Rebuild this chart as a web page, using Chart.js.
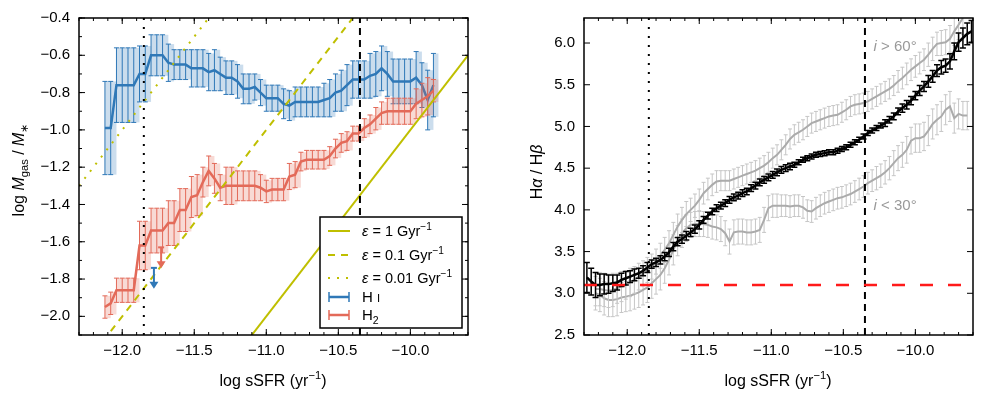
<!DOCTYPE html>
<html lang="en">

<head>
    <meta charset="UTF-8">
    <script src="https://cdn.jsdelivr.net/npm/chart.js"></script>
    <title>sSFR panels</title>
    <style>
        body { margin: 0; background: #fff; }
        #wrap { position: relative; width: 981px; height: 396px; }
        .panel { position: absolute; top: 0; height: 396px; }
    </style>
</head>

<body>
    <div id="wrap">
        <div class="panel" style="left:0;width:490px"><canvas id="gasChart"></canvas></div>
        <div class="panel" style="left:490px;width:491px"><canvas id="balmerChart"></canvas></div>
    </div>

<script>
    const FONT = '"Liberation Sans", Arial, sans-serif'

    // ---- left panel: gas fraction vs sSFR ----
    const ssfrGas = [-12.12, -12.08, -12.04, -12.00, -11.96, -11.92, -11.88, -11.84, -11.80, -11.76,
        -11.72, -11.68, -11.64, -11.60, -11.56, -11.52, -11.48, -11.44, -11.40, -11.36,
        -11.32, -11.28, -11.24, -11.20, -11.16, -11.12, -11.08, -11.04, -11.00, -10.96,
        -10.92, -10.88, -10.84, -10.80, -10.76, -10.72, -10.68, -10.64,
        -10.60, -10.56, -10.52, -10.48, -10.44, -10.40, -10.36, -10.32, -10.28, -10.24,
        -10.20, -10.16, -10.12, -10.08, -10.04, -10.00, -9.96, -9.92, -9.88, -9.84]
    const gasHI = [-0.99, -0.99, -0.76, -0.76, -0.76, -0.76, -0.70, -0.70, -0.60, -0.60,
        -0.60, -0.64, -0.65, -0.65, -0.65, -0.67, -0.67, -0.67, -0.69, -0.68,
        -0.70, -0.72, -0.72, -0.74, -0.78, -0.78, -0.77, -0.80, -0.83, -0.83,
        -0.83, -0.86, -0.87, -0.85, -0.85, -0.85, -0.85, -0.85,
        -0.84, -0.83, -0.80, -0.79, -0.76, -0.73, -0.73, -0.73, -0.71, -0.70,
        -0.67, -0.70, -0.74, -0.74, -0.74, -0.74, -0.72, -0.76, -0.84, -0.76]
    const errHI = [0.25, 0.25, 0.20, 0.20, 0.20, 0.20, 0.15, 0.15, 0.11, 0.11,
        0.11, 0.10, 0.08, 0.08, 0.08, 0.10, 0.10, 0.10, 0.10, 0.11,
        0.09, 0.09, 0.09, 0.09, 0.08, 0.08, 0.07, 0.07, 0.07, 0.07,
        0.07, 0.08, 0.08, 0.08, 0.08, 0.08, 0.08, 0.08,
        0.09, 0.10, 0.10, 0.11, 0.11, 0.10, 0.10, 0.10, 0.12, 0.12,
        0.12, 0.12, 0.12, 0.12, 0.12, 0.12, 0.14, 0.12, 0.16, 0.17]
    const gasH2 = [-1.95, -1.93, -1.86, -1.86, -1.86, -1.86, -1.62, -1.62, -1.54, -1.54,
        -1.54, -1.50, -1.50, -1.43, -1.43, -1.36, -1.35, -1.28, -1.22, -1.26,
        -1.31, -1.30, -1.30, -1.30, -1.30, -1.30, -1.30, -1.31, -1.33, -1.32,
        -1.32, -1.32, -1.25, -1.24, -1.17, -1.16, -1.16, -1.16,
        -1.16, -1.14, -1.10, -1.07, -1.06, -1.02, -1.02, -0.99, -0.97, -0.94,
        -0.91, -0.90, -0.90, -0.90, -0.90, -0.90, -0.86, -0.84, -0.82, -0.79]
    const errH2 = [0.06, 0.06, 0.065, 0.065, 0.065, 0.065, 0.13, 0.13, 0.12, 0.12,
        0.12, 0.12, 0.12, 0.115, 0.115, 0.11, 0.11, 0.08, 0.08, 0.08,
        0.07, 0.10, 0.10, 0.08, 0.08, 0.08, 0.08, 0.07, 0.06, 0.06,
        0.06, 0.06, 0.07, 0.07, 0.05, 0.05, 0.05, 0.05,
        0.05, 0.05, 0.05, 0.05, 0.05, 0.04, 0.04, 0.05, 0.05, 0.06,
        0.06, 0.07, 0.07, 0.07, 0.07, 0.07, 0.08, 0.09, 0.10, 0.06]

    // upper limits (H I, H2)
    const limitX = [-11.78, -11.73]
    const limitY = [-1.74, -1.63]

    // depletion lines, eps = 1, 0.1, 0.01 Gyr^-1
    const epsX = [-12.3, -9.6]
    const eps1Y = [-3.3, -0.6]
    const eps01Y = [-2.3, 0.4]
    const eps001Y = [-1.3, 1.4]

    // ---- right panel: Balmer decrement vs sSFR ----
    const ssfrBD = [-12.28, -12.25, -12.22, -12.19, -12.16, -12.13, -12.10, -12.07, -12.04, -12.01,
        -11.98, -11.95, -11.92, -11.89, -11.86, -11.83, -11.80, -11.77, -11.74, -11.71,
        -11.68, -11.65, -11.62, -11.59, -11.56, -11.53, -11.50, -11.47, -11.44, -11.41,
        -11.38, -11.35, -11.32, -11.29, -11.26, -11.23, -11.20, -11.17, -11.14, -11.11,
        -11.08, -11.05, -11.02, -10.99, -10.96, -10.93, -10.90, -10.87, -10.84, -10.81,
        -10.78, -10.75, -10.72, -10.69, -10.66, -10.63, -10.60, -10.57, -10.54, -10.51,
        -10.48, -10.45, -10.42, -10.39, -10.36, -10.33, -10.30, -10.27, -10.24, -10.21,
        -10.18, -10.15, -10.12, -10.09, -10.06, -10.03, -10.00, -9.97, -9.94, -9.91,
        -9.88, -9.85, -9.82, -9.79, -9.76, -9.73, -9.70, -9.67, -9.64, -9.61]
    const bdAll = [3.19, 3.14, 3.10, 3.10, 3.11, 3.11, 3.12, 3.13, 3.16, 3.18,
        3.20, 3.22, 3.24, 3.27, 3.31, 3.35, 3.37, 3.40, 3.44, 3.49,
        3.56, 3.62, 3.65, 3.69, 3.73, 3.77, 3.82, 3.88, 3.93, 3.98,
        4.02, 4.05, 4.08, 4.12, 4.15, 4.17, 4.20, 4.22, 4.26, 4.29,
        4.33, 4.36, 4.39, 4.42, 4.45, 4.48, 4.50, 4.52, 4.54, 4.57,
        4.60, 4.62, 4.64, 4.66, 4.67, 4.68, 4.69, 4.69, 4.71, 4.73,
        4.75, 4.78, 4.81, 4.84, 4.88, 4.92, 4.95, 4.98, 5.01, 5.04,
        5.08, 5.12, 5.18, 5.22, 5.26, 5.31, 5.37, 5.43, 5.48, 5.54,
        5.60, 5.67, 5.71, 5.73, 5.78, 5.90, 6.01, 6.06, 6.11, 6.14]
    const errAll = [.18, .16, .15, .13, .12, .11, .10, .09, .08, .08,
        .07, .07, .06, .06, .06, .05, .05, .05, .05, .05,
        .05, .05, .05, .05, .05, .05, .05, .04, .04, .04,
        .04, .04, .04, .04, .04, .04, .04, .04, .04, .04,
        .04, .04, .04, .04, .04, .04, .04, .04, .03, .03,
        .03, .03, .03, .03, .03, .03, .03, .03, .03, .03,
        .03, .03, .03, .03, .03, .03, .03, .03, .03, .04,
        .04, .04, .04, .05, .05, .05, .05, .06, .06, .07,
        .07, .07, .08, .08, .09, .10, .11, .12, .13, .13]
    // i > 60 deg (edge-on)
    const bdEdge = [null, null, 3.05, 3.05, 3.04, 3.03, 3.04, 3.06, 3.08, 3.10,
        3.13, 3.16, 3.20, 3.24, 3.28, 3.32, 3.38, 3.45, 3.52, 3.60,
        3.70, 3.80, 3.88, 3.95, 4.00, 4.05, 4.12, 4.20, 4.25, 4.30,
        4.34, 4.35, 4.35, 4.35, 4.37, 4.39, 4.41, 4.43, 4.45, 4.47,
        4.50, 4.53, 4.57, 4.62, 4.66, 4.72, 4.78, 4.85, 4.90, 4.93,
        4.96, 5.00, 5.04, 5.06, 5.08, 5.10, 5.12, 5.13, 5.14, 5.17,
        5.20, 5.24, 5.26, 5.27, 5.28, 5.30, 5.33, 5.36, 5.39, 5.42,
        5.45, 5.49, 5.54, 5.58, 5.63, 5.68, 5.72, 5.76, 5.80, 5.86,
        5.93, 5.99, 6.00, 6.01, 6.05, 6.14, 6.22, 6.30, null, null]
    const errEdge = [null, null, .20, .20, .20, .20, .20, .18, .18, .17,
        .17, .16, .16, .15, .15, .15, .15, .15, .15, .15,
        .15, .15, .15, .15, .14, .14, .13, .13, .13, .13,
        .13, .12, .12, .12, .12, .12, .12, .12, .12, .12,
        .12, .12, .12, .12, .12, .12, .12, .12, .12, .12,
        .12, .12, .12, .12, .12, .12, .12, .12, .12, .12,
        .12, .12, .12, .12, .12, .12, .12, .12, .12, .12,
        .12, .12, .13, .13, .13, .13, .13, .13, .13, .14,
        .14, .14, .15, .15, .16, .17, .18, .20, null, null]
    // i < 30 deg (face-on)
    const bdFace = [null, null, 3.00, 2.98, 2.94, 2.92, 2.92, 2.93, 2.95, 2.96,
        2.97, 2.99, 3.01, 3.04, 3.07, 3.12, 3.17, 3.22, 3.30, 3.40,
        3.52, 3.63, 3.72, 3.78, 3.82, 3.83, 3.83, 3.83, 3.82, 3.80,
        3.79, 3.77, 3.72, 3.62, 3.73, 3.74, 3.74, 3.73, 3.73, 3.74,
        3.76, 3.88, 4.02, 4.05, 4.05, 4.05, 4.05, 4.04, 4.05, 4.05,
        4.03, 3.99, 3.98, 4.02, 4.05, 4.08, 4.10, 4.12, 4.14, 4.15,
        4.17, 4.19, 4.22, 4.25, 4.28, 4.32, 4.35, 4.38, 4.41, 4.45,
        4.50, 4.56, 4.62, 4.66, 4.72, 4.83, 4.86, 4.86, 4.88, 4.95,
        5.03, 5.08, 5.12, 5.20, 5.24, 5.10, 5.15, 5.13, 5.13, null]
    const errFace = [null, null, .20, .20, .20, .20, .20, .20, .18, .18,
        .18, .18, .18, .18, .18, .18, .18, .18, .18, .18,
        .18, .18, .17, .16, .15, .15, .15, .15, .15, .15,
        .15, .15, .15, .15, .15, .15, .15, .15, .15, .15,
        .15, .15, .15, .14, .14, .13, .13, .13, .13, .13,
        .13, .13, .13, .13, .13, .13, .13, .13, .13, .13,
        .13, .13, .13, .13, .13, .13, .13, .14, .14, .14,
        .14, .15, .15, .15, .16, .16, .17, .17, .17, .18,
        .18, .18, .18, .18, .18, .18, .18, .17, .17, null]
    const intrinsicRatio = 3.1

    // reference sSFR values (vertical lines)
    const ssfrDotted = -11.85
    const ssfrDashed = -10.35

    // ticks
    const xTicks = [-12.0, -11.5, -11.0, -10.5, -10.0]
    const gasTicks = [-2.0, -1.8, -1.6, -1.4, -1.2, -1.0, -0.8, -0.6, -0.4]
    const bdTicks = [2.5, 3.0, 3.5, 4.0, 4.5, 5.0, 5.5, 6.0]

    function pts(xs, ys, es) {
        const out = []
        for (let i = 0; i < xs.length; i++) {
            if (ys[i] !== null) out.push({ x: xs[i], y: ys[i], e: es ? es[i] : 0 })
        }
        return out
    }

    function fmt(v) {
        return (v < 0 ? '\u2212' : '') + Math.abs(v).toFixed(1)
    }

    function drawRich(ctx, parts, x, y, size, align) {
        const fontOf = p => (p.it ? 'italic ' : '') + (p.sub || p.sup ? size * 0.7 : p.sc ? size * 0.75 : size) + 'px ' + FONT
        let w = 0
        parts.forEach(p => { ctx.font = fontOf(p); w += ctx.measureText(p.t).width })
        let cx = align == 'center' ? x - w / 2 : x
        ctx.textAlign = 'left'
        ctx.textBaseline = 'alphabetic'
        parts.forEach(p => {
            ctx.font = fontOf(p)
            const dy = p.sub ? size * 0.25 : p.sup ? -size * 0.42 : 0
            ctx.fillText(p.t, cx, y + dy)
            cx += ctx.measureText(p.t).width
        })
    }

    const xTitle = [{ t: 'log sSFR (yr' }, { t: '\u22121', sup: true }, { t: ')' }]

    // error bars, drawn under each dataset's line
    const errorBars = {
        id: 'errorBars',
        beforeDatasetDraw(chart, args) {
            const ds = chart.data.datasets[args.index]
            if (!ds.errColor) return
            const ctx = chart.ctx, a = chart.chartArea
            const sx = chart.scales.x, sy = chart.scales.y
            ctx.save()
            ctx.beginPath()
            ctx.rect(a.left, a.top, a.width, a.height)
            ctx.clip()
            if (ds.errFill) {
                ctx.fillStyle = ds.errFill
                ds.data.forEach((p, i) => {
                    const px = sx.getPixelForValue(p.x)
                    const nx = ds.data[i + 1] ? sx.getPixelForValue(ds.data[i + 1].x) : px + 5
                    const t = sy.getPixelForValue(p.y + p.e), b = sy.getPixelForValue(p.y - p.e)
                    ctx.fillRect(px, t, nx - px, b - t)
                })
            }
            ctx.strokeStyle = ds.errColor
            ctx.lineWidth = ds.errWidth
            ctx.beginPath()
            ds.data.forEach(p => {
                const px = sx.getPixelForValue(p.x)
                const t = sy.getPixelForValue(p.y + p.e), b = sy.getPixelForValue(p.y - p.e)
                ctx.moveTo(px, t); ctx.lineTo(px, b)
                ctx.moveTo(px - ds.cap, t); ctx.lineTo(px + ds.cap, t)
                ctx.moveTo(px - ds.cap, b); ctx.lineTo(px + ds.cap, b)
            })
            ctx.stroke()
            ctx.restore()
        }
    }

    function line(ctx, x1, y1, x2, y2) {
        ctx.beginPath(); ctx.moveTo(x1, y1); ctx.lineTo(x2, y2); ctx.stroke()
    }

    // inward ticks on all four sides + frame
    function drawFrame(chart, xMinorStep, yMajor, yMinorStep) {
        const ctx = chart.ctx, a = chart.chartArea
        const sx = chart.scales.x, sy = chart.scales.y
        ctx.save()
        ctx.strokeStyle = '#000'
        ctx.lineWidth = 1
        const xTick = (v, len) => {
            const px = sx.getPixelForValue(v)
            line(ctx, px, a.bottom, px, a.bottom - len)
            line(ctx, px, a.top, px, a.top + len)
        }
        const yTick = (v, len) => {
            const py = sy.getPixelForValue(v)
            line(ctx, a.left, py, a.left + len, py)
            line(ctx, a.right, py, a.right - len, py)
        }
        for (let v = Math.ceil(sx.min / xMinorStep) * xMinorStep; v <= sx.max + 1e-9; v += xMinorStep) xTick(v, 3)
        xTicks.forEach(v => xTick(v, 6))
        if (yMinorStep) {
            for (let v = Math.ceil(sy.min / yMinorStep) * yMinorStep; v <= sy.max + 1e-9; v += yMinorStep) yTick(v, 3)
        }
        yMajor.forEach(v => yTick(v, 6))
        ctx.lineWidth = 1.5
        ctx.strokeRect(a.left, a.top, a.width, a.height)
        ctx.restore()
    }

    function vlines(chart) {
        const ctx = chart.ctx, a = chart.chartArea, sx = chart.scales.x
        ctx.save()
        ctx.strokeStyle = '#000'
        ctx.lineWidth = 2
        ctx.setLineDash([2, 7])
        line(ctx, sx.getPixelForValue(ssfrDotted), a.bottom, sx.getPixelForValue(ssfrDotted), a.top)
        ctx.setLineDash([7, 5])
        line(ctx, sx.getPixelForValue(ssfrDashed), a.bottom, sx.getPixelForValue(ssfrDashed), a.top)
        ctx.restore()
    }

    function scaleX() {
        return {
            type: 'linear', min: -12.3, max: -9.6,
            grid: { display: false, drawTicks: false }, border: { display: false },
            afterBuildTicks: s => { s.ticks = xTicks.map(v => ({ value: v })) },
            afterFit: s => { s.height = 61 },
            ticks: { callback: v => fmt(v), color: '#000', font: { family: FONT, size: 15 }, padding: 7, autoSkip: false, maxRotation: 0 }
        }
    }

    // ---------- left chart ----------
    const gasPlugin = {
        id: 'gasExtras',
        afterDatasetsDraw(chart) {
            const ctx = chart.ctx, sx = chart.scales.x, sy = chart.scales.y
            vlines(chart)
            // upper limit arrows
            const cols = ['#2f78b7', '#e36a59']
            limitX.forEach((lx, i) => {
                const px = sx.getPixelForValue(lx), py = sy.getPixelForValue(limitY[i])
                ctx.save()
                ctx.strokeStyle = cols[i]; ctx.fillStyle = cols[i]; ctx.lineWidth = 2
                line(ctx, px - 3, py, px + 3, py)
                line(ctx, px, py, px, py + 15)
                ctx.beginPath()
                ctx.moveTo(px - 4.5, py + 14); ctx.lineTo(px + 4.5, py + 14); ctx.lineTo(px, py + 21); ctx.closePath()
                ctx.fill()
                ctx.restore()
            })
        },
        afterDraw(chart) {
            const ctx = chart.ctx
            drawFrame(chart, 0.1, gasTicks, 0.1)
            ctx.save()
            ctx.fillStyle = '#000'
            drawRich(ctx, xTitle, 273, 386, 16, 'center')
            ctx.translate(18, 170)
            ctx.rotate(-Math.PI / 2)
            drawRich(ctx, [{ t: 'log ' }, { t: 'M', it: true }, { t: 'gas', sub: true }, { t: ' / ' }, { t: 'M', it: true }, { t: '\u2217', sub: true }], 0, 6, 16, 'center')
            ctx.restore()

            // legend
            ctx.save()
            ctx.fillStyle = '#fff'
            ctx.fillRect(320, 217, 142, 111)
            ctx.strokeStyle = '#000'; ctx.lineWidth = 1.5
            ctx.strokeRect(320, 217, 142, 111)
            const rows = [231, 255, 278]
            const dashes = [[], [7, 6], [2, 7]]
            const labels = ['1', '0.1', '0.01']
            rows.forEach((ry, i) => {
                ctx.strokeStyle = '#bfbf00'; ctx.lineWidth = 2; ctx.setLineDash(dashes[i])
                line(ctx, 328, ry, 350, ry)
                ctx.setLineDash([])
                ctx.fillStyle = '#000'
                drawRich(ctx, [{ t: '\u03b5', it: true }, { t: ' = ' + labels[i] + ' Gyr' }, { t: '\u22121', sup: true }], 362, ry + 5, 14.5, 'left')
            })
            const eb = [[297, '#2f78b7', [{ t: 'H ' }, { t: 'I', sc: true }]], [315, '#e36a59', [{ t: 'H' }, { t: '2', sub: true }]]]
            eb.forEach(r => {
                const ry = r[0]
                ctx.strokeStyle = r[1]; ctx.lineWidth = 2.5
                line(ctx, 329, ry, 349, ry)
                ctx.lineWidth = 1.5
                line(ctx, 329, ry - 5, 329, ry + 5)
                line(ctx, 349, ry - 5, 349, ry + 5)
                ctx.fillStyle = '#000'
                drawRich(ctx, r[2], 362, ry + 5, 15, 'left')
            })
            ctx.restore()
        }
    }

    new Chart(document.getElementById('gasChart'), {
        type: 'scatter',
        data: {
            datasets: [
                { label: 'eps1', data: pts(epsX, eps1Y), showLine: true, pointRadius: 0, borderColor: '#bfbf00', borderWidth: 2, order: 0, clip: 0 },
                { label: 'eps01', data: pts(epsX, eps01Y), showLine: true, pointRadius: 0, borderColor: '#bfbf00', borderWidth: 2, borderDash: [7, 6], order: 0, clip: 0 },
                { label: 'eps001', data: pts(epsX, eps001Y), showLine: true, pointRadius: 0, borderColor: '#bfbf00', borderWidth: 2, borderDash: [2, 7], order: 0, clip: 0 },
                {
                    label: 'H2', data: pts(ssfrGas, gasH2, errH2), showLine: true, pointRadius: 0, borderColor: '#e36a59', borderWidth: 2.5, order: 1, clip: 0,
                    errColor: '#e36a59', errWidth: 1, cap: 2.5, errFill: 'rgba(227,106,89,0.25)'
                },
                {
                    label: 'HI', data: pts(ssfrGas, gasHI, errHI), showLine: true, pointRadius: 0, borderColor: '#2f78b7', borderWidth: 2.5, order: 2, clip: 0,
                    errColor: '#2f78b7', errWidth: 1, cap: 2.5, errFill: 'rgba(47,120,183,0.25)'
                }
            ]
        },
        options: {
            responsive: true, maintainAspectRatio: false, animation: false,
            layout: { padding: { left: 0, right: 22, top: 15, bottom: 0 } },
            plugins: { legend: { display: false }, tooltip: { enabled: false } },
            scales: {
                x: scaleX(),
                y: {
                    type: 'linear', min: -2.1, max: -0.4,
                    grid: { display: false, drawTicks: false }, border: { display: false },
                    afterBuildTicks: s => { s.ticks = gasTicks.map(v => ({ value: v })) },
                    afterFit: s => { s.width = 79 },
                    ticks: { callback: v => fmt(v), color: '#000', font: { family: FONT, size: 15 }, padding: 9, autoSkip: false }
                }
            }
        },
        plugins: [errorBars, gasPlugin]
    })

    // ---------- right chart ----------
    const bdPlugin = {
        id: 'bdExtras',
        afterDatasetsDraw(chart) {
            const ctx = chart.ctx, a = chart.chartArea, sx = chart.scales.x, sy = chart.scales.y
            vlines(chart)
            ctx.save()
            ctx.strokeStyle = '#ff1a1a'; ctx.lineWidth = 2.5; ctx.setLineDash([13, 15])
            const py = sy.getPixelForValue(intrinsicRatio)
            line(ctx, a.left, py, a.right, py)
            ctx.restore()
            ctx.save()
            ctx.fillStyle = '#999'
            const tx = sx.getPixelForValue(-10.29)
            drawRich(ctx, [{ t: 'i', it: true }, { t: ' > 60\u00b0' }], tx, sy.getPixelForValue(5.97) + 5, 15, 'left')
            drawRich(ctx, [{ t: 'i', it: true }, { t: ' < 30\u00b0' }], tx, sy.getPixelForValue(4.06) + 5, 15, 'left')
            ctx.restore()
        },
        afterDraw(chart) {
            const ctx = chart.ctx
            drawFrame(chart, 0.1, bdTicks, 0)
            ctx.save()
            ctx.fillStyle = '#000'
            drawRich(ctx, xTitle, 288, 386, 16, 'center')
            ctx.translate(46, 172)
            ctx.rotate(-Math.PI / 2)
            drawRich(ctx, [{ t: 'H' }, { t: '\u03b1', it: true }, { t: ' / H' }, { t: '\u03b2', it: true }], 0, 6, 16, 'center')
            ctx.restore()
        }
    }

    new Chart(document.getElementById('balmerChart'), {
        type: 'scatter',
        data: {
            datasets: [
                {
                    label: 'all', data: pts(ssfrBD, bdAll, errAll), showLine: true, pointRadius: 0, borderColor: '#000', borderWidth: 2.5, order: 0, clip: 0,
                    errColor: '#000', errWidth: 1.5, cap: 3
                },
                {
                    label: 'edge', data: pts(ssfrBD, bdEdge, errEdge), showLine: true, pointRadius: 0, borderColor: '#ababab', borderWidth: 2, order: 1, clip: 0,
                    errColor: '#c6c6c6', errWidth: 1, cap: 2
                },
                {
                    label: 'face', data: pts(ssfrBD, bdFace, errFace), showLine: true, pointRadius: 0, borderColor: '#ababab', borderWidth: 2, order: 1, clip: 0,
                    errColor: '#c6c6c6', errWidth: 1, cap: 2
                }
            ]
        },
        options: {
            responsive: true, maintainAspectRatio: false, animation: false,
            layout: { padding: { left: 0, right: 8, top: 15, bottom: 0 } },
            plugins: { legend: { display: false }, tooltip: { enabled: false } },
            scales: {
                x: scaleX(),
                y: {
                    type: 'linear', min: 2.5, max: 6.3,
                    grid: { display: false, drawTicks: false }, border: { display: false },
                    afterBuildTicks: s => { s.ticks = bdTicks.map(v => ({ value: v })) },
                    afterFit: s => { s.width = 94 },
                    ticks: { callback: v => fmt(v), color: '#000', font: { family: FONT, size: 15 }, padding: 9, autoSkip: false }
                }
            }
        },
        plugins: [errorBars, bdPlugin]
    })
</script>
</body>

</html>
